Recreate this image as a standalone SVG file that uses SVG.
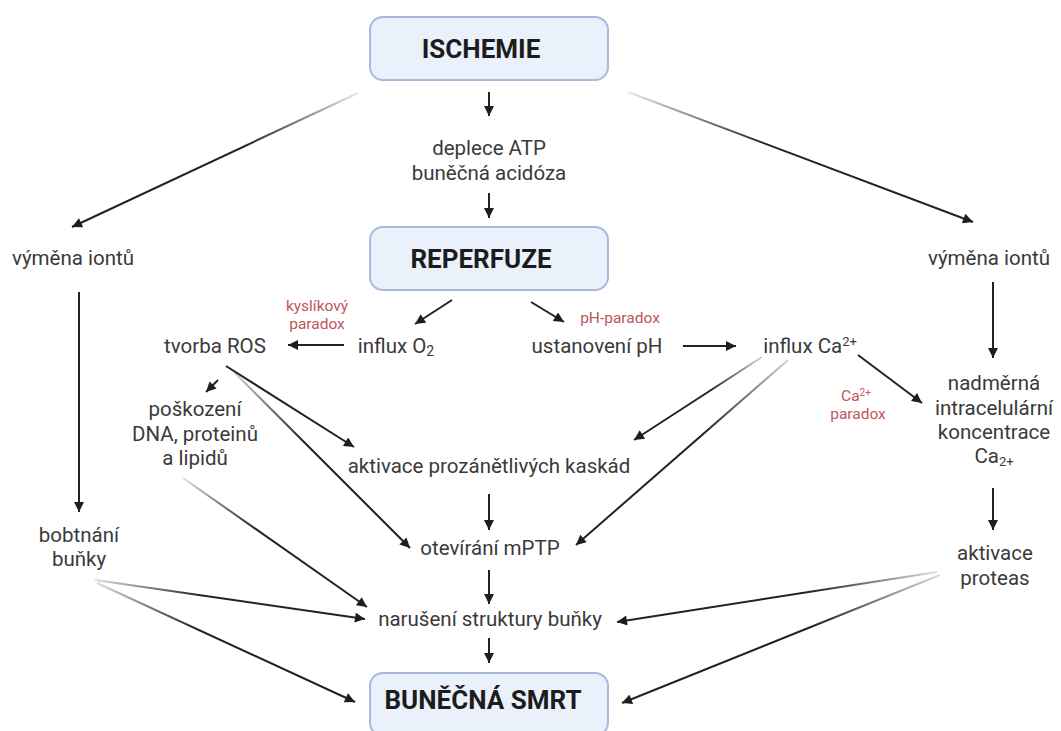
<svg xmlns="http://www.w3.org/2000/svg" width="1061" height="731" viewBox="0 0 1061 731">
<style>
.box{fill:#eaf1fb;stroke:#a8badb;stroke-width:2}
.bt{font-family:Roboto,"Liberation Sans",sans-serif;font-weight:bold;font-size:26px;fill:#1c1c1c;text-anchor:middle}
.t{font-family:Roboto,"Liberation Sans",sans-serif;font-size:20.5px;fill:#3a3a3a;text-anchor:middle}
.r{font-family:Roboto,"Liberation Sans",sans-serif;font-size:15.5px;fill:#c0555c;text-anchor:middle}
.c line{stroke:#222;stroke-width:2;marker-end:url(#ah)}
</style>
<defs>
<marker id="ah" viewBox="0 0 10 10" refX="10" refY="5" markerWidth="12" markerHeight="10" markerUnits="userSpaceOnUse" orient="auto">
<path d="M0,0 L10,5 L0,10 z" fill="#1e1e1e"/>
</marker>
<linearGradient id="g3" gradientUnits="userSpaceOnUse" x1="358" y1="93" x2="72" y2="227"><stop offset="0" stop-color="#222" stop-opacity="0.1"/><stop offset="0.4" stop-color="#222"/></linearGradient>
<linearGradient id="g4" gradientUnits="userSpaceOnUse" x1="628" y1="92" x2="973" y2="222"><stop offset="0" stop-color="#222" stop-opacity="0.1"/><stop offset="0.4" stop-color="#222"/></linearGradient>
<linearGradient id="g13" gradientUnits="userSpaceOnUse" x1="234" y1="372" x2="410" y2="548"><stop offset="0" stop-color="#222" stop-opacity="0.2"/><stop offset="0.4" stop-color="#222"/></linearGradient>
<linearGradient id="g14" gradientUnits="userSpaceOnUse" x1="762" y1="357" x2="634" y2="440"><stop offset="0" stop-color="#222" stop-opacity="0.2"/><stop offset="0.4" stop-color="#222"/></linearGradient>
<linearGradient id="g15" gradientUnits="userSpaceOnUse" x1="788" y1="360" x2="576" y2="545"><stop offset="0" stop-color="#222" stop-opacity="0.2"/><stop offset="0.4" stop-color="#222"/></linearGradient>
<linearGradient id="g20" gradientUnits="userSpaceOnUse" x1="183" y1="478" x2="367" y2="607"><stop offset="0" stop-color="#222" stop-opacity="0.15"/><stop offset="0.4" stop-color="#222"/></linearGradient>
<linearGradient id="g21" gradientUnits="userSpaceOnUse" x1="95" y1="580" x2="365" y2="619"><stop offset="0" stop-color="#222" stop-opacity="0.15"/><stop offset="0.4" stop-color="#222"/></linearGradient>
<linearGradient id="g22" gradientUnits="userSpaceOnUse" x1="97" y1="583" x2="355" y2="702"><stop offset="0" stop-color="#222" stop-opacity="0.15"/><stop offset="0.4" stop-color="#222"/></linearGradient>
<linearGradient id="g24" gradientUnits="userSpaceOnUse" x1="937" y1="572" x2="617" y2="622"><stop offset="0" stop-color="#222" stop-opacity="0.15"/><stop offset="0.4" stop-color="#222"/></linearGradient>
<linearGradient id="g25" gradientUnits="userSpaceOnUse" x1="940" y1="575" x2="622" y2="703"><stop offset="0" stop-color="#222" stop-opacity="0.15"/><stop offset="0.4" stop-color="#222"/></linearGradient>
</defs>
<rect width="1061" height="731" fill="#ffffff"/>
<g id="connectors" class="c">
<line x1="489" y1="92" x2="489" y2="116"/>
<line x1="489" y1="193" x2="489" y2="218"/>
<line x1="358" y1="93" x2="72" y2="227" style="stroke:url(#g3)"/>
<line x1="628" y1="92" x2="973" y2="222" style="stroke:url(#g4)"/>
<line x1="79" y1="292" x2="79" y2="512"/>
<line x1="993" y1="282" x2="993" y2="358"/>
<line x1="452" y1="300" x2="415" y2="324"/>
<line x1="531" y1="302" x2="564" y2="322"/>
<line x1="344" y1="345" x2="288" y2="345"/>
<line x1="683" y1="346" x2="736" y2="346"/>
<line x1="218" y1="380" x2="206" y2="392"/>
<line x1="226" y1="366" x2="354" y2="447"/>
<line x1="234" y1="372" x2="410" y2="548" style="stroke:url(#g13)"/>
<line x1="762" y1="357" x2="634" y2="440" style="stroke:url(#g14)"/>
<line x1="788" y1="360" x2="576" y2="545" style="stroke:url(#g15)"/>
<line x1="858" y1="355" x2="922" y2="403"/>
<line x1="489" y1="494" x2="489" y2="530"/>
<line x1="489" y1="570" x2="489" y2="604"/>
<line x1="489" y1="638" x2="489" y2="663"/>
<line x1="183" y1="478" x2="367" y2="607" style="stroke:url(#g20)"/>
<line x1="95" y1="580" x2="365" y2="619" style="stroke:url(#g21)"/>
<line x1="97" y1="583" x2="355" y2="702" style="stroke:url(#g22)"/>
<line x1="993" y1="488" x2="993" y2="530"/>
<line x1="937" y1="572" x2="617" y2="622" style="stroke:url(#g24)"/>
<line x1="940" y1="575" x2="622" y2="703" style="stroke:url(#g25)"/>
</g>
<g id="ischemie"><rect class="box" x="370" y="17" width="238" height="63" rx="13"/><text class="bt" x="481" y="58">ISCHEMIE</text></g>
<g id="deplece"><text class="t" x="489" y="155">deplece ATP</text><text class="t" x="489" y="180">buněčná acidóza</text></g>
<g id="reperfuze"><rect class="box" x="370" y="227" width="238" height="63" rx="13"/><text class="bt" x="481" y="268">REPERFUZE</text></g>
<g id="vymena-l"><text class="t" x="73" y="265">výměna iontů</text></g>
<g id="vymena-r"><text class="t" x="989" y="265">výměna iontů</text></g>
<g id="kyslikovy-paradox"><text class="r" x="317" y="311">kyslíkový</text><text class="r" x="317" y="329">paradox</text></g>
<g id="influx-o2"><text class="t" x="396" y="353">influx O<tspan font-size="14" dy="3">2</tspan></text></g>
<g id="tvorba-ros"><text class="t" x="215" y="353">tvorba ROS</text></g>
<g id="ph-paradox"><text class="r" x="620" y="323">pH-paradox</text></g>
<g id="ustanoveni-ph"><text class="t" x="597" y="353">ustanovení pH</text></g>
<g id="influx-ca"><text class="t" x="810" y="353">influx Ca<tspan font-size="13" dy="-7">2+</tspan></text></g>
<g id="ca-paradox"><text class="r" x="856" y="401">Ca<tspan font-size="10" dy="-5">2+</tspan></text><text class="r" x="858" y="419">paradox</text></g>
<g id="nadmerna"><text class="t" x="994" y="390">nadměrná</text><text class="t" x="994" y="415">intracelulární</text><text class="t" x="994" y="439">koncentrace</text><text class="t" x="994" y="463">Ca<tspan font-size="13" dy="3">2+</tspan></text></g>
<g id="poskozeni"><text class="t" x="195" y="416">poškození</text><text class="t" x="195" y="441">DNA, proteinů</text><text class="t" x="195" y="465">a lipidů</text></g>
<g id="aktivace-kaskad"><text class="t" x="489" y="473">aktivace prozánětlivých kaskád</text></g>
<g id="mptp"><text class="t" x="490" y="555">otevírání mPTP</text></g>
<g id="narušeni"><text class="t" x="490" y="626">narušení struktury buňky</text></g>
<g id="bobtnani"><text class="t" x="79" y="542">bobtnání</text><text class="t" x="79" y="566">buňky</text></g>
<g id="proteas"><text class="t" x="995" y="560">aktivace</text><text class="t" x="995" y="585">proteas</text></g>
<g id="smrt"><rect class="box" x="370" y="673" width="238" height="63" rx="13"/><text class="bt" x="483" y="709">BUNĚČNÁ SMRT</text></g>
</svg>
